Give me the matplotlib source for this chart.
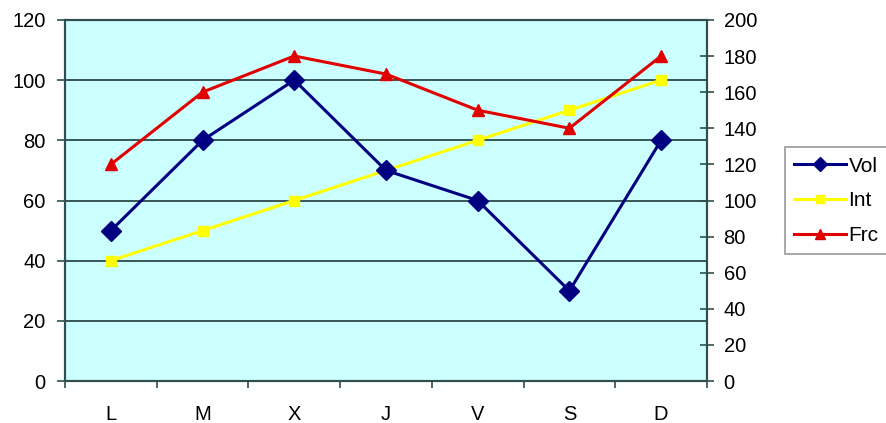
import matplotlib.pyplot as plt
import numpy as np

plt.rcParams['font.family'] = ['Liberation Sans', 'DejaVu Sans']

# data
days = ["L", "M", "X", "J", "V", "S", "D"]
vol = [50, 80, 100, 70, 60, 30, 80]      # left axis
inte = [40, 50, 60, 70, 80, 90, 100]     # left axis
frc = [120, 160, 180, 170, 150, 140, 180]  # right axis

x = np.arange(len(days))

fig = plt.figure(figsize=(8.87, 4.23), dpi=100)
ax = fig.add_axes([0.0733, 0.099, 0.7237, 0.854])
ax.set_facecolor("#CCFFFF")

l1, = ax.plot(x, vol, color="#000080", marker="D", markersize=10, linewidth=2.2, label="Vol", zorder=4)
l2, = ax.plot(x, inte, color="#FFFF00", marker="s", markersize=7, linewidth=2.2, label="Int", zorder=3)

ax.set_ylim(0, 120)
ax.set_yticks(range(0, 121, 20))
ax.set_xlim(-0.5, len(days) - 0.5)
ax.set_xticks(x)
ax.set_xticklabels(days)
ax.set_xticks(np.arange(-0.5, len(days), 1), minor=True)
ax.tick_params(axis="x", which="major", length=0, pad=17, labelsize=14.5)
ax.tick_params(axis="x", which="minor", length=5, color="#2F4F4F", width=1.2)
ax.tick_params(axis="y", length=6, color="#2F4F4F", width=1.2, labelsize=14.5, pad=8)
for g in range(20, 120, 20):
    ax.axhline(g, color="#1F3A3A", linewidth=1.2, zorder=1)

ax2 = ax.twinx()
l3, = ax2.plot(x, frc, color="#E00000", marker="^", markersize=9, linewidth=2.2, label="Frc", zorder=5)
ax2.set_ylim(0, 200)
ax2.set_yticks(range(0, 201, 20))
ax2.tick_params(axis="y", direction="inout", length=10, color="#2F4F4F", width=1.2, labelsize=14.5, pad=7)

for a in (ax, ax2):
    for s in a.spines.values():
        s.set_color("#2F4F4F")
        s.set_linewidth(1.5)

leg = fig.legend([l1, l2, l3], ["Vol", "Int", "Frc"], loc="upper left",
                 bbox_to_anchor=(0.885, 0.652), frameon=True, fancybox=False,
                 fontsize=15, handlelength=2.5, borderpad=0.45, labelspacing=0.75,
                 handletextpad=0.1, borderaxespad=0, markerscale=0.75)
leg.get_frame().set_edgecolor("#808080")
leg.get_frame().set_linewidth(1.2)

fig.savefig("out.png", dpi=100)
